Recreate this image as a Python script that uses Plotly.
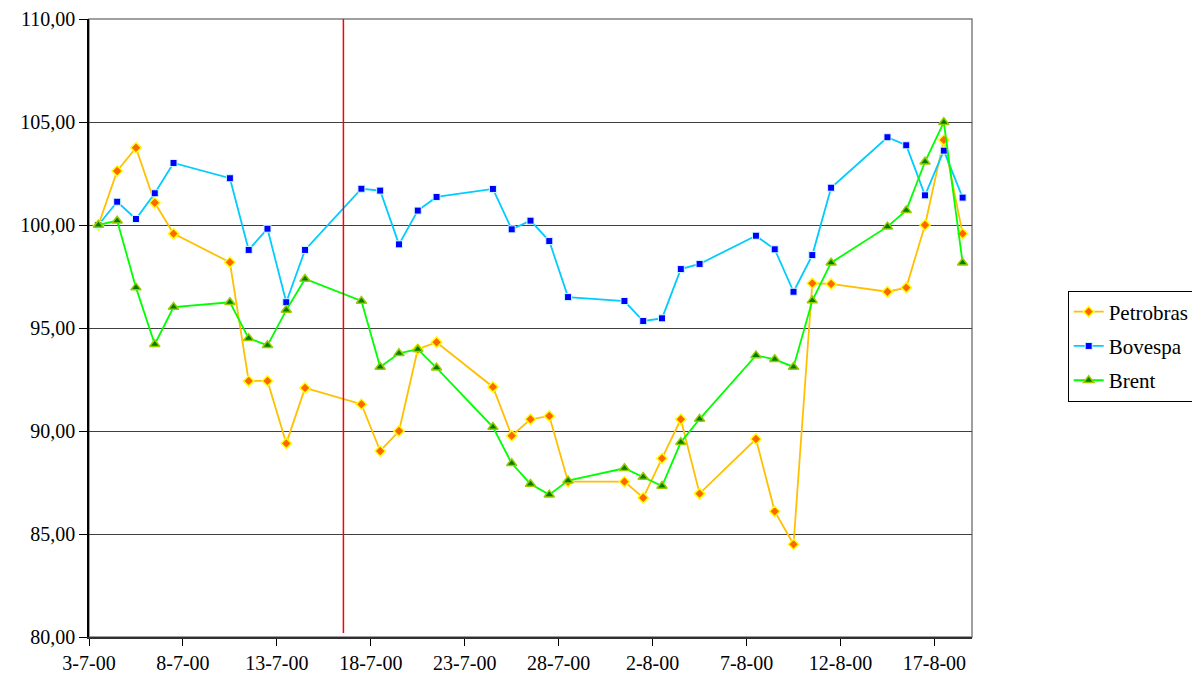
import plotly.graph_objects as go

dates = ["2000-07-03", "2000-07-04", "2000-07-05", "2000-07-06", "2000-07-07",
         "2000-07-10", "2000-07-11", "2000-07-12", "2000-07-13", "2000-07-14",
         "2000-07-17", "2000-07-18", "2000-07-19", "2000-07-20", "2000-07-21",
         "2000-07-24", "2000-07-25", "2000-07-26", "2000-07-27", "2000-07-28",
         "2000-07-31", "2000-08-01", "2000-08-02", "2000-08-03", "2000-08-04",
         "2000-08-07", "2000-08-08", "2000-08-09", "2000-08-10", "2000-08-11",
         "2000-08-14", "2000-08-15", "2000-08-16", "2000-08-17", "2000-08-18"]

petrobras = [100.00, 102.62, 103.75, 101.08, 99.58,
             98.19, 92.43, 92.43, 89.40, 92.09,
             91.30, 89.03, 90.00, 93.97, 94.31,
             92.14, 89.77, 90.57, 90.73, 87.54,
             87.54, 86.76, 88.67, 90.57, 86.96,
             89.61, 86.10, 84.50, 97.17, 97.14,
             96.76, 96.96, 100.00, 104.13, 99.58]

bovespa = [100.00, 101.13, 100.29, 101.54, 103.01,
           102.27, 98.79, 99.82, 96.25, 98.79,
           101.76, 101.67, 99.06, 100.70, 101.36,
           101.75, 99.79, 100.21, 99.22, 96.50,
           96.31, 95.34, 95.47, 97.86, 98.11,
           99.48, 98.82, 96.76, 98.54, 101.81,
           104.26, 103.87, 101.44, 103.61, 101.33]

brent = [100.00, 100.21, 96.96, 94.21, 96.02,
         96.25, 94.50, 94.16, 95.87, 97.38,
         96.31, 93.11, 93.77, 93.97, 93.07,
         90.19, 88.43, 87.43, 86.91, 87.59,
         88.19, 87.77, 87.33, 89.45, 90.58,
         93.67, 93.48, 93.11, 96.33, 98.17,
         99.92, 100.71, 103.07, 104.99, 98.17]

# tick marks sit on day boundaries (half a day before each labelled date)
tick_vals = ["2000-07-02 12:00", "2000-07-07 12:00", "2000-07-12 12:00", "2000-07-17 12:00",
             "2000-07-22 12:00", "2000-07-27 12:00", "2000-08-01 12:00", "2000-08-06 12:00",
             "2000-08-11 12:00", "2000-08-16 12:00"]
tick_text = ["3-7-00", "8-7-00", "13-7-00", "18-7-00", "23-7-00", "28-7-00",
             "2-8-00", "7-8-00", "12-8-00", "17-8-00"]
x_range = ["2000-07-02 12:00", "2000-08-18 12:00"]
marker_date = "2000-07-16 01:00"

FONT = "Liberation Serif, Times New Roman, serif"

fig = go.Figure()
fig.add_trace(go.Scatter(
    x=dates, y=petrobras, name="Petrobras", mode="lines+markers",
    line=dict(color="#FFC000", width=1.8),
    marker=dict(symbol="diamond", size=8, color="#FF6600",
                line=dict(color="#FFFF00", width=1.5)),
    legendgroup="a"))
fig.add_trace(go.Scatter(
    x=dates, y=bovespa, name="Bovespa", mode="lines+markers",
    line=dict(color="#00CCFF", width=1.8),
    marker=dict(symbol="square", size=7, color="#0000FF",
                line=dict(color="#CCFFFF", width=1)),
    legendgroup="b"))
fig.add_trace(go.Scatter(
    x=dates, y=brent, name="Brent", mode="lines+markers",
    line=dict(color="#00FF00", width=1.8),
    marker=dict(symbol="triangle-up", size=9, color="#008000",
                line=dict(color="#99CC00", width=1.5)),
    legendgroup="c"))

# plot area border (grey)
fig.add_shape(type="rect", xref="paper", yref="paper", x0=0, x1=1, y0=0, y1=1,
              line=dict(color="#808080", width=1.5), layer="below")
# red vertical marker line
fig.add_shape(type="line", xref="x", yref="y", x0=marker_date, x1=marker_date,
              y0=80.2, y1=110, line=dict(color="#FF0000", width=1.5))

fig.update_layout(
    width=1192, height=676,
    margin=dict(l=81, r=228, t=11, b=47, autoexpand=False),
    paper_bgcolor="white", plot_bgcolor="white",
    separators=",.",
    font=dict(family=FONT, size=20, color="black"),
    showlegend=True,
    legend=dict(xref="container", yref="container",
                x=0.889, xanchor="left", y=0.5, yanchor="middle",
                bordercolor="black", borderwidth=1, bgcolor="white",
                font=dict(family=FONT, size=21), tracegroupgap=4,
                traceorder="grouped"),
)
fig.update_xaxes(
    type="date", range=x_range, tickmode="array", tickvals=tick_vals, ticktext=tick_text,
    showgrid=False, showline=True, linecolor="#303030", linewidth=2,
    ticks="outside", ticklen=7, tickcolor="black", tickwidth=1,
    tickfont=dict(family=FONT, size=20), zeroline=False, automargin=False)
fig.update_yaxes(
    range=[80, 110], dtick=5, tick0=80, tickformat=".2f",
    showgrid=True, gridcolor="#404040", gridwidth=1,
    showline=True, linecolor="black", linewidth=1.5,
    ticks="outside", ticklen=8, tickcolor="black",
    tickfont=dict(family=FONT, size=20), zeroline=False, automargin=False)

fig.write_html("out.html")
